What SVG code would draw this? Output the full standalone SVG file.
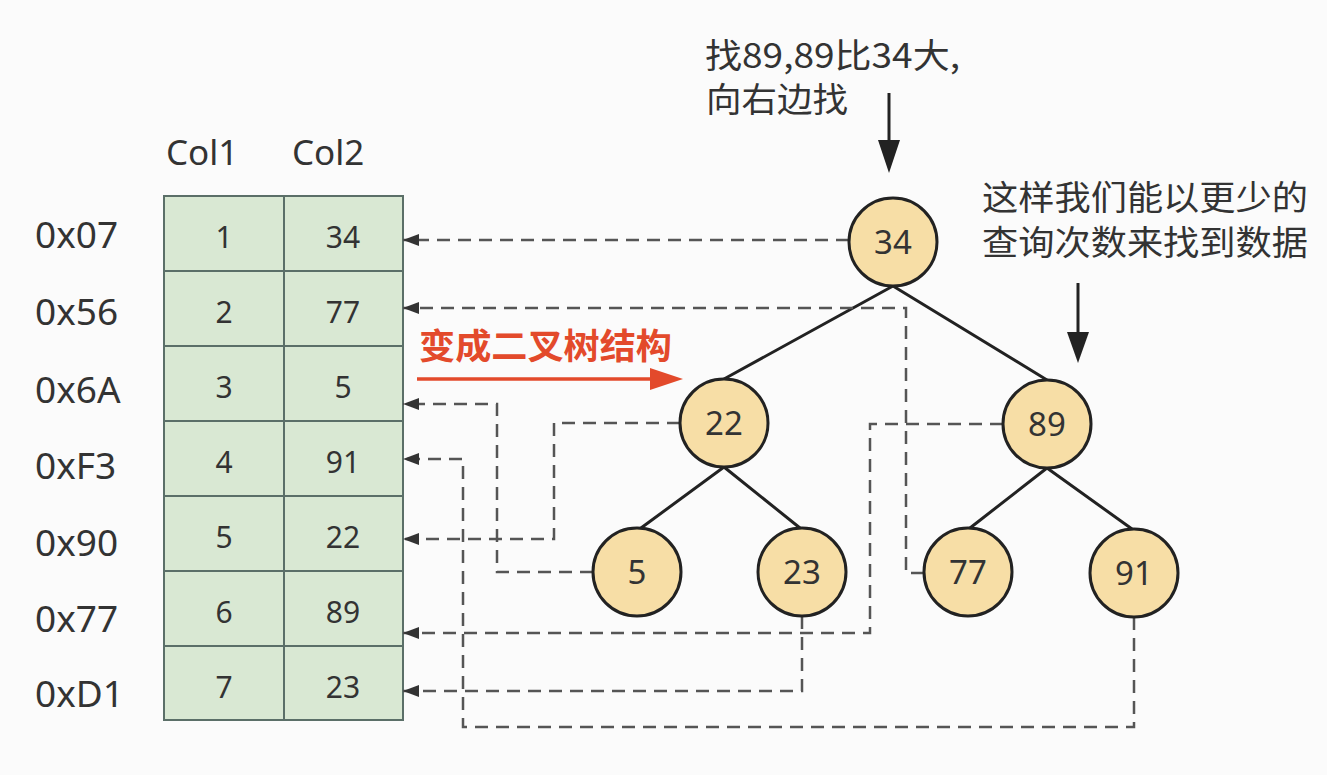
<svg xmlns="http://www.w3.org/2000/svg" width="1327" height="775" viewBox="0 0 1327 775">
<defs>
<style>
.lbl{font-family:"Noto Sans","Noto Sans CJK SC",sans-serif;fill:#333}
.hdr{font-size:35px}
.row{font-size:37px}
.cell{font-size:30px;text-anchor:middle}
.num{font-size:33px;text-anchor:middle}
.cjk{font-family:"Noto Sans CJK SC","Noto Sans",sans-serif;fill:#333;font-size:34px}
.red{font-family:"Noto Sans CJK SC","Noto Sans",sans-serif;fill:#e34a2b;font-size:35px;font-weight:bold}
.tbl{fill:#d9e8d3;stroke:#5b6f68;stroke-width:2}
.node{fill:#f7dea6;stroke:#222;stroke-width:3}
.edge{stroke:#222;stroke-width:3;fill:none}
.dash{stroke:#555;stroke-width:2.5;fill:none;stroke-dasharray:13 8;marker-end:url(#ah)}
</style>
<marker id="ah" markerUnits="userSpaceOnUse" markerWidth="17" markerHeight="12" refX="16" refY="6" orient="auto">
<path d="M0,0 L16,6 L0,12 z" fill="#333"/>
</marker>
</defs>
<rect width="1327" height="775" fill="#fbfbfb"/>

<g id="table">
<rect class="tbl" x="164" y="196" width="239" height="524"/>
<path d="M284,196 V720 M164,271 H403 M164,346 H403 M164,421 H403 M164,496 H403 M164,571 H403 M164,646 H403" stroke="#5b6f68" stroke-width="2" fill="none"/>
<text class="lbl hdr" x="166" y="165">Col1</text>
<text class="lbl hdr" x="292" y="165">Col2</text>
<g class="lbl cell">
<text x="224" y="248">1</text><text x="343" y="248">34</text>
<text x="224" y="323">2</text><text x="343" y="323">77</text>
<text x="224" y="398">3</text><text x="343" y="398">5</text>
<text x="224" y="473">4</text><text x="343" y="473">91</text>
<text x="224" y="548">5</text><text x="343" y="548">22</text>
<text x="224" y="623">6</text><text x="343" y="623">89</text>
<text x="224" y="698">7</text><text x="343" y="698">23</text>
</g>
<g class="lbl row">
<text x="35" y="248">0x07</text>
<text x="35" y="325">0x56</text>
<text x="35" y="403">0x6A</text>
<text x="35" y="479">0xF3</text>
<text x="35" y="556">0x90</text>
<text x="35" y="632">0x77</text>
<text x="35" y="707">0xD1</text>
</g>
</g>

<g id="connectors">
<path class="edge" d="M893,286 L724,379 M893,286 L1047,380 M724,467 L641,528 M724,467 L800,528 M1047,468 L970,528 M1047,468 L1132,529"/>
<path class="dash" d="M849,240 H403"/>
<path class="dash" d="M924,573 H906 V308 H403"/>
<path class="dash" d="M593,572 H497 V404 H403"/>
<path class="dash" d="M1134,617 V727 H463 V459 H403"/>
<path class="dash" d="M680,423 H554 V539 H403"/>
<path class="dash" d="M1003,424 H870 V633 H403"/>
<path class="dash" d="M802,616 V691 H403"/>
</g>

<g id="node34"><circle class="node" cx="893" cy="242" r="44"/><text class="lbl num" x="893" y="254">34</text></g>
<g id="node22"><circle class="node" cx="724" cy="423" r="44"/><text class="lbl num" x="724" y="435">22</text></g>
<g id="node89"><circle class="node" cx="1047" cy="424" r="44"/><text class="lbl num" x="1047" y="436">89</text></g>
<g id="node5"><circle class="node" cx="637" cy="572" r="44"/><text class="lbl num" x="637" y="584">5</text></g>
<g id="node23"><circle class="node" cx="802" cy="572" r="44"/><text class="lbl num" x="802" y="584">23</text></g>
<g id="node77"><circle class="node" cx="968" cy="572" r="44"/><text class="lbl num" x="968" y="584">77</text></g>
<g id="node91"><circle class="node" cx="1134" cy="573" r="44"/><text class="lbl num" x="1134" y="585">91</text></g>

<g id="note-top">
<text class="cjk" x="705" y="68" textLength="255" lengthAdjust="spacingAndGlyphs">找89,89比34大,</text>
<text class="cjk" x="706" y="112" textLength="142" lengthAdjust="spacingAndGlyphs">向右边找</text>
<line x1="889" y1="93" x2="889" y2="145" stroke="#222" stroke-width="3"/>
<polygon points="878,140 900,140 889,173" fill="#222"/>
</g>

<g id="note-right">
<text class="cjk" x="982" y="210" textLength="326" lengthAdjust="spacingAndGlyphs">这样我们能以更少的</text>
<text class="cjk" x="982" y="255" textLength="326" lengthAdjust="spacingAndGlyphs">查询次数来找到数据</text>
<line x1="1078" y1="283" x2="1078" y2="336" stroke="#222" stroke-width="3"/>
<polygon points="1067,332 1089,332 1078,363" fill="#222"/>
</g>

<g id="transform-arrow">
<text class="red" x="419" y="359" textLength="253" lengthAdjust="spacingAndGlyphs">变成二叉树结构</text>
<line x1="417" y1="379" x2="655" y2="379" stroke="#e34a2b" stroke-width="3.5"/>
<polygon points="650,368 683,379 650,390" fill="#e34a2b"/>
</g>
</svg>
